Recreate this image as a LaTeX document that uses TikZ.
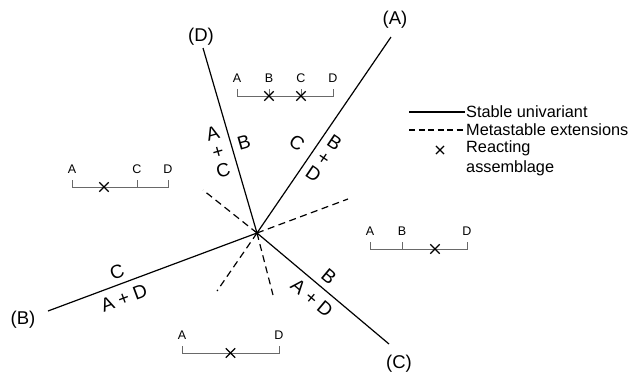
\documentclass[tikz,border=0pt]{standalone}
\usepackage{fontspec}
\setmainfont{Liberation Sans}
\usepackage{tikz}
\usetikzlibrary{shapes.misc}
\definecolor{bargray}{RGB}{105,105,105}
\tikzset{
    univar/.style={draw=black, line width=1.2pt},
    metastab/.style={draw=black, line width=1.2pt, dash pattern=on 7pt off 4.5pt},
    compbar/.style={draw=bargray, line width=0.9pt},
    xmark/.style={cross out, draw=black, line width=1.3pt, minimum size=8pt, inner sep=0pt},
    endlbl/.style={font=\fontsize{18.5}{22}\selectfont, inner sep=0pt},
    rxnlbl/.style={font=\fontsize{19}{19}\selectfont, align=center, inner sep=0pt},
    barlbl/.style={font=\fontsize{12.5}{14}\selectfont, anchor=base, inner sep=0pt},
    keylbl/.style={font=\fontsize{16.3}{20}\selectfont, anchor=west, align=left, inner sep=1pt}
}

\begin{document}
\begin{tikzpicture}[x=1pt, y=-1pt]
    \useasboundingbox (0,0) rectangle (630,373);
    % invariant point and ends of the univariant lines
    \coordinate (ip) at (257,233);
    \coordinate (ea) at (391,37);
    \coordinate (eb) at (48,311);
    \coordinate (ec) at (389,344);
    \coordinate (ed) at (203,48);
    \coordinate (ma) at (217,291);
    \coordinate (mb) at (348,199);
    \coordinate (mc) at (203,190);
    \coordinate (md) at (273,295);
    \draw[univar] (ip) -- (ea);
    \draw[univar] (ip) -- (eb);
    \draw[univar] (ip) -- (ec);
    \draw[univar] (ip) -- (ed);
    \draw[metastab] (ip) -- (ma);
    \draw[metastab] (ip) -- (mb);
    \draw[metastab] (ip) -- (mc);
    \draw[metastab] (ip) -- (md);
    \node[endlbl] (la) at (395,20) {(A)};
    \node[endlbl] (lb) at (23,320) {(B)};
    \node[endlbl] (lc) at (399,364) {(C)};
    \node[endlbl] (ld) at (201,37) {(D)};

    % reactions along the lines
    \node[rxnlbl, rotate=16] (rd1) at (218,152) {A\\+\\C};
    \node[rxnlbl, rotate=16] (rd2) at (244,142) {B};
    \node[rxnlbl, rotate=-34] (ra1) at (297,143) {C};
    \node[rxnlbl, rotate=-34] (ra2) at (324,158) {B\\+\\D};
    \node[rxnlbl, rotate=20.5] (rb1) at (117,272) {C};
    \node[rxnlbl, rotate=20.5] (rb2) at (124,298) {A + D};
    \node[rxnlbl, rotate=-40] (rc1) at (329,277) {B};
    \node[rxnlbl, rotate=-40] (rc2) at (312,298) {A + D};

    % composition bars
    \draw[compbar] (237,89) -- (237,96) -- (333,96) -- (333,89);
    \draw[compbar] (269,89) -- (269,96);
    \draw[compbar] (301,89) -- (301,96);
    \node[barlbl] (t1a) at (237,82.5) {A};
    \node[barlbl] (t1b) at (269,82.5) {B};
    \node[barlbl] (t1c) at (301,82.5) {C};
    \node[barlbl] (t1d) at (333,82.5) {D};
    \node[xmark] (x1b) at (269,96) {};
    \node[xmark] (x1c) at (301,96) {};

    \draw[compbar] (72,180) -- (72,187) -- (168,187) -- (168,180);
    \draw[compbar] (137,180) -- (137,187);
    \node[barlbl] (t2a) at (72,173.5) {A};
    \node[barlbl] (t2c) at (137,173.5) {C};
    \node[barlbl] (t2d) at (168,173.5) {D};
    \node[xmark] (x2) at (104,187) {};

    \draw[compbar] (370,242) -- (370,249) -- (467,249) -- (467,242);
    \draw[compbar] (402,242) -- (402,249);
    \node[barlbl] (t3a) at (370,235.5) {A};
    \node[barlbl] (t3b) at (402,235.5) {B};
    \node[barlbl] (t3d) at (467,235.5) {D};
    \node[xmark] (x3) at (435,249) {};

    \draw[compbar] (182,346) -- (182,353) -- (279,353) -- (279,346);
    \node[barlbl] (t4a) at (182,339.5) {A};
    \node[barlbl] (t4d) at (279,339.5) {D};
    \node[xmark] (x4) at (230.5,353) {};

    % key
    \coordinate (k1a) at (409,112);
    \coordinate (k1b) at (465,112);
    \coordinate (k2a) at (409,130);
    \coordinate (k2b) at (465,130);
    \draw[univar] (k1a) -- (k1b);
    \draw[metastab, dash pattern=on 6pt off 3.5pt] (k2a) -- (k2b);
    \node[keylbl] (k1) at (k1b) {Stable univariant};
    \node[keylbl] (k2) at (k2b) {Metastable extensions};
    \node[xmark, line width=1.1pt, minimum size=7pt] (k3x) at (440,150) {};
    \node[keylbl] (k3) at (465,158) {Reacting\\assemblage};
\end{tikzpicture}
\end{document}
